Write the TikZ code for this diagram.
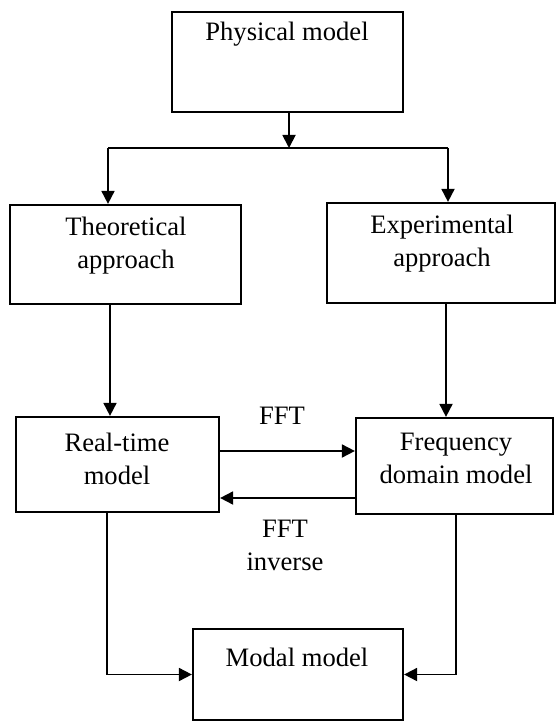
\documentclass[tikz,border=0pt]{standalone}
\usepackage{fontspec}
\setmainfont{Liberation Serif}
\usetikzlibrary{arrows.meta}
\begin{document}
\begin{tikzpicture}[x=1pt,y=-1pt,
  box/.style={draw=black,line width=2.2pt,minimum width=#1,inner sep=0pt},
  lbl/.style={font=\fontsize{26.6}{33}\selectfont,align=center,inner sep=0pt},
  conn/.style={draw=black,line width=1.8pt},
  arr/.style={conn,-{Triangle[length=13pt,width=13pt]}}]
\useasboundingbox (0,0) rectangle (557,722);
% boxes
\node[box=231pt,minimum height=100pt] (phys) at (287.5,62) {};
\node[box=231pt,minimum height=99pt] (theo) at (125.5,254.5) {};
\node[box=228pt,minimum height=100pt] (exp) at (441,253) {};
\node[box=203pt,minimum height=95pt] (rt) at (117.5,464.5) {};
\node[box=197pt,minimum height=96pt] (freq) at (454.5,466) {};
\node[box=210pt,minimum height=91pt] (modal) at (298,674.5) {};
% texts
\node[lbl] (tphys) at (287,34) {Physical model};
\node[lbl] (ttheo) at (126,246) {Theoretical\\approach};
\node[lbl] (texp) at (442,244) {Experimental\\approach};
\node[lbl] (trt) at (117,459) {Real-time\\model};
\node[lbl] (tfreq) at (456,458) {Frequency\\domain model};
\node[lbl] (tmodal) at (297,657) {Modal model};
\node[lbl] (tfft) at (282,416) {FFT};
\node[lbl] (tinv) at (285,545) {FFT\\inverse};
% helper coordinates
\coordinate (split) at (289,148);
\coordinate (jl) at (108,148);
\coordinate (jr) at (448,148);
\coordinate (cl) at (110,0);
\coordinate (cr) at (446,0);
\coordinate (cfft) at (0,451);
\coordinate (cinv) at (0,498);
\coordinate (cml) at (107,0);
\coordinate (cmr) at (456,0);
% connectors
\draw[arr] (phys.south -| split) -- (split);
\draw[conn] (jl) -- (jr);
\draw[arr] (jl) -- (jl |- theo.north);
\draw[arr] (jr) -- (jr |- exp.north);
\draw[arr] (theo.south -| cl) -- (rt.north -| cl);
\draw[arr] (exp.south -| cr) -- (freq.north -| cr);
\draw[arr] (rt.east |- cfft) -- (freq.west |- cfft);
\draw[arr] (freq.west |- cinv) -- (rt.east |- cinv);
\draw[arr] (rt.south -| cml) |- (modal.west);
\draw[arr] (freq.south -| cmr) |- (modal.east);
\end{tikzpicture}
\end{document}
